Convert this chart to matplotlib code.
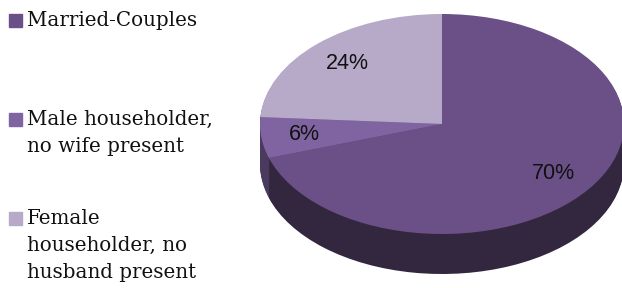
import matplotlib.pyplot as plt
from matplotlib.patches import Rectangle

labels = ["Married-Couples", "Male householder,\nno wife present", "Female\nhouseholder, no\nhusband present"]
values = [70, 6, 24]
top_colors = ["#6a5086", "#8064a2", "#b7aac9"]
side_colors = ["#33273f", "#4a3a5e", "#5e5170"]

W, H = 622, 288
fig = plt.figure(figsize=(W / 100, H / 100), dpi=100)

# pie area in pixels: top ellipse centre, radii and side depth
cx, cy, rx, ry, depth = 442, 124, 182, 110, 40
d = depth / ry
ylo = -1 - d - 0.04
ax = fig.add_axes([(cx - rx) / W, 1 - (cy + ry + (d + 0.04) * ry) / H,
                   2 * rx / W, (1 - ylo) * ry / H])

# side of the pie: stack of shifted dark pies
n = 40
for k in range(n, 0, -1):
    off = d * k / n
    ax.pie(values, colors=side_colors, startangle=90, counterclock=False,
           center=(0, -off), radius=1, frame=True,
           wedgeprops=dict(linewidth=0))

# top face
wedges, texts, autotexts = ax.pie(
    values, colors=top_colors, startangle=90, counterclock=False,
    radius=1, frame=True, autopct="%d%%", pctdistance=0.76,
    wedgeprops=dict(linewidth=0),
    textprops=dict(fontsize=15.5, family="Liberation Sans", color="#111111"))
ax.set_aspect("auto")
ax.set_xlim(-1, 1)
ax.set_ylim(ylo, 1)
ax.axis("off")

# legend on the left
first_line_y = [20, 119, 218]
for lab, col, y in zip(labels, top_colors, first_line_y):
    fig.patches.append(Rectangle((9 / W, 1 - (y + 6.5) / H), 13 / W, 13 / H,
                                 transform=fig.transFigure, color=col))
    fig.text(27 / W, 1 - (y - 9) / H, lab, ha="left", va="top",
             fontsize=14.3, family="DejaVu Serif", color="#111111",
             linespacing=1.53)

fig.savefig("out.png", dpi=100)
